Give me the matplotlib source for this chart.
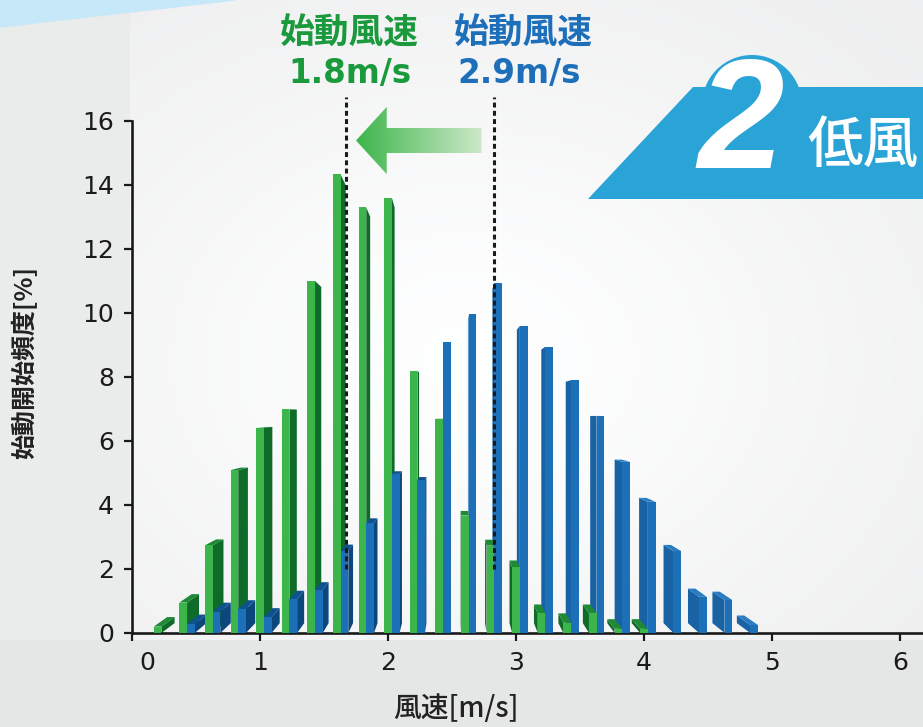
import numpy as np
import matplotlib
matplotlib.use("Agg")
import matplotlib.pyplot as plt
from matplotlib.patches import Polygon, Circle
from matplotlib.transforms import ScaledTranslation

plt.rcParams['font.family'] = ['DejaVu Sans', 'Noto Sans CJK JP']
JP = ['Noto Sans CJK JP', 'DejaVu Sans']

# wind speed bins [m/s] and start-up frequency [%]
green_speed = [0.2, 0.4, 0.6, 0.8, 1.0, 1.2, 1.4, 1.6, 1.8, 2.0,
               2.2, 2.4, 2.6, 2.8, 3.0, 3.2, 3.4, 3.6, 3.8, 4.0]
green_freq = [0.20, 0.95, 2.74, 5.09, 6.42, 6.99, 11.0, 14.33, 13.3, 13.6,
              8.2, 6.7, 3.67, 2.73, 2.05, 0.61, 0.32, 0.61, 0.13, 0.13]
blue_speed = [0.4, 0.6, 0.8, 1.0, 1.2, 1.4, 1.6, 1.8, 2.0, 2.2, 2.4, 2.6,
              2.8, 3.0, 3.2, 3.4, 3.6, 3.8, 4.0, 4.2, 4.4, 4.6, 4.8]
blue_freq = [0.28, 0.67, 0.75, 0.49, 1.06, 1.34, 2.57, 3.43, 4.97, 4.78, 9.08, 9.96,
             10.93, 9.6, 8.95, 7.9, 6.78, 5.35, 4.1, 2.56, 1.13, 1.03, 0.25]

start_green = 1.8   # label values
start_blue = 2.9
marker_green = 1.67  # where the dashed lines sit on the axis
marker_blue = 2.83

xticks = [0, 1, 2, 3, 4, 5, 6]
yticks = [0, 2, 4, 6, 8, 10, 12, 14, 16]

BAR_W = 0.06
VX, VY, S = 2.51, 6.85, 0.045   # fake perspective for the 3d look

GREEN = dict(front='#3cb54a', side='#0e6b2a', top='#1f8a36')
BLUE = dict(front='#1c70b8', side='#0b477d', top='#0e528f', side_r='#1962a3', top_r='#2a7cc2')

W, H = 923, 727
fig = plt.figure(figsize=(W / 100, H / 100), dpi=100)

# background
bg = fig.add_axes([0, 0, 1, 1])
yy, xx = np.mgrid[0:H, 0:W]
glow = np.exp(-(((xx - 470) / 430.0) ** 2 + ((yy - 360) / 330.0) ** 2))
val = 0.935 + 0.065 * glow
val[:, :130] = 0.925
val[640:, :] = 0.905
rgb = np.dstack([val * 0.995, val * 0.997, val]).clip(0, 1)
bg.imshow(rgb, extent=(0, W, H, 0), aspect='auto')
bg.add_patch(Polygon([(0, 0), (235, 0), (0, 27)], closed=True, color='#c6e8f8'))
bg.set_xlim(0, W)
bg.set_ylim(H, 0)
bg.axis('off')

# main chart
x0px, y0px, ytop = 132, 633, 90
ax = fig.add_axes([x0px / W, (H - y0px) / H, (W - x0px) / W, (y0px - ytop) / H])
ax.patch.set_alpha(0)


def back(p):
    return (p[0] + S * (VX - p[0]), p[1] + S * (VY - p[1]))


def faces(xc, h, col):
    a, b = xc - BAR_W / 2, xc + BAR_W / 2
    bl, br, tl, tr = (a, 0), (b, 0), (a, h), (b, h)
    out = []
    if b < VX:
        out.append(([br, tr, back(tr), back(br)], col['side']))
        top_c = col['top']
    elif a > VX:
        out.append(([bl, tl, back(tl), back(bl)], col.get('side_r', col['side'])))
        top_c = col.get('top_r', col['top'])
    else:
        top_c = col['top']
    if h < VY:
        out.append(([tl, tr, back(tr), back(tl)], top_c))
    return out


bars = [(v, h, GREEN) for v, h in zip(green_speed, green_freq)]
bars += [(v + 0.06, h, BLUE) for v, h in zip(blue_speed, blue_freq)]
bars.sort(key=lambda t: -abs(t[0] - VX))
for xc, h, col in bars:
    for pts, c in faces(xc, h, col):
        ax.add_patch(Polygon(pts, closed=True, facecolor=c, edgecolor='none', zorder=2))

ax.bar(green_speed, green_freq, width=BAR_W, color=GREEN['front'], zorder=3)
ax.bar([v + 0.06 for v in blue_speed], blue_freq, width=BAR_W, color=BLUE['front'], zorder=3)

# dashed start-up markers
for xm in (marker_green, marker_blue):
    ax.plot([xm, xm], [2.0, 16.75], color='#1a1a1a', lw=2.2, dashes=(1.6, 1.1), zorder=5)

# gradient arrow from blue marker to green marker
ymid = 15.39
arrow = Polygon([(1.75, ymid), (1.99, 16.44), (1.99, 15.78), (2.73, 15.78),
                 (2.73, 15.0), (1.99, 15.0), (1.99, 14.34)], closed=True,
                facecolor='none', edgecolor='none')
ax.add_patch(arrow)
c1 = np.array([0x3d, 0xb5, 0x4b]) / 255.0
c2 = np.array([0xcd, 0xe8, 0xc9]) / 255.0
t = np.linspace(0, 1, 256)[None, :, None]
grad = c1 * (1 - t) + c2 * t
im = ax.imshow(grad, extent=(1.75, 2.73, 14.34, 16.44), aspect='auto', zorder=4)
im.set_clip_path(arrow)
ax.set_xlim(0, (W - x0px) / 128.0)
ax.set_ylim(0, (y0px - ytop) / 32.0)

for s in ('top', 'right'):
    ax.spines[s].set_visible(False)
for s in ('left', 'bottom'):
    ax.spines[s].set_color('#1a1a1a')
    ax.spines[s].set_linewidth(1.9)
ax.spines['left'].set_bounds(0, 16)
ax.set_xticks(xticks)
ax.set_yticks(yticks)
ax.tick_params(axis='both', direction='out', length=6, width=1.6, color='#1a1a1a',
               labelsize=18, labelcolor='#1a1a1a')
ax.tick_params(axis='y', pad=7)
ax.tick_params(axis='x', pad=7)
lab0 = ax.get_xticklabels()[0]
lab0.set_transform(lab0.get_transform() + ScaledTranslation(15 / 100, 0, fig.dpi_scale_trans))

fig.text(456 / W, 1 - 709 / H, '風速[m/s]', family=JP, fontsize=20, fontweight='medium',
         color='#222222', ha='center', va='center')
fig.text(24 / W, 1 - 362 / H, '始動開始頻度[%]', family=JP, fontsize=18, fontweight='bold',
         color='#222222', rotation=90, ha='center', va='center')

# overlay: titles and badge (pixel coords)
ov = fig.add_axes([0, 0, 1, 1], zorder=5)
ov.patch.set_alpha(0)
ov.set_xlim(0, W)
ov.set_ylim(H, 0)
ov.axis('off')

gcol, bcol = '#1a993d', '#1d6fba'
ov.text(349, 33, '始動風速', family=JP, fontsize=25, fontweight='bold', color=gcol,
        ha='center', va='center')
ov.text(350, 74, f'{start_green}m/s', fontsize=23.5, fontweight='bold', color=gcol,
        ha='center', va='center')
ov.text(523, 33, '始動風速', family=JP, fontsize=25, fontweight='bold', color=bcol,
        ha='center', va='center')
ov.text(519, 74, f'{start_blue}m/s', fontsize=23.5, fontweight='bold', color=bcol,
        ha='center', va='center')

badge = '#2aa3d7'
ov.add_patch(Polygon([(588, 199), (693, 87), (W + 5, 87), (W + 5, 199)], closed=True,
                     facecolor=badge, edgecolor='none'))
ov.add_patch(Circle((752, 105), 50, facecolor=badge, edgecolor='none'))
ov.text(741, 128, '2', family='Liberation Sans', fontsize=112, fontweight='bold',
        style='italic', color='white', ha='center', va='center')
ov.text(807, 146, '低風', family=JP, fontsize=40, fontweight='medium', color='white',
        ha='left', va='center')

fig.savefig('out.png', dpi=100)
